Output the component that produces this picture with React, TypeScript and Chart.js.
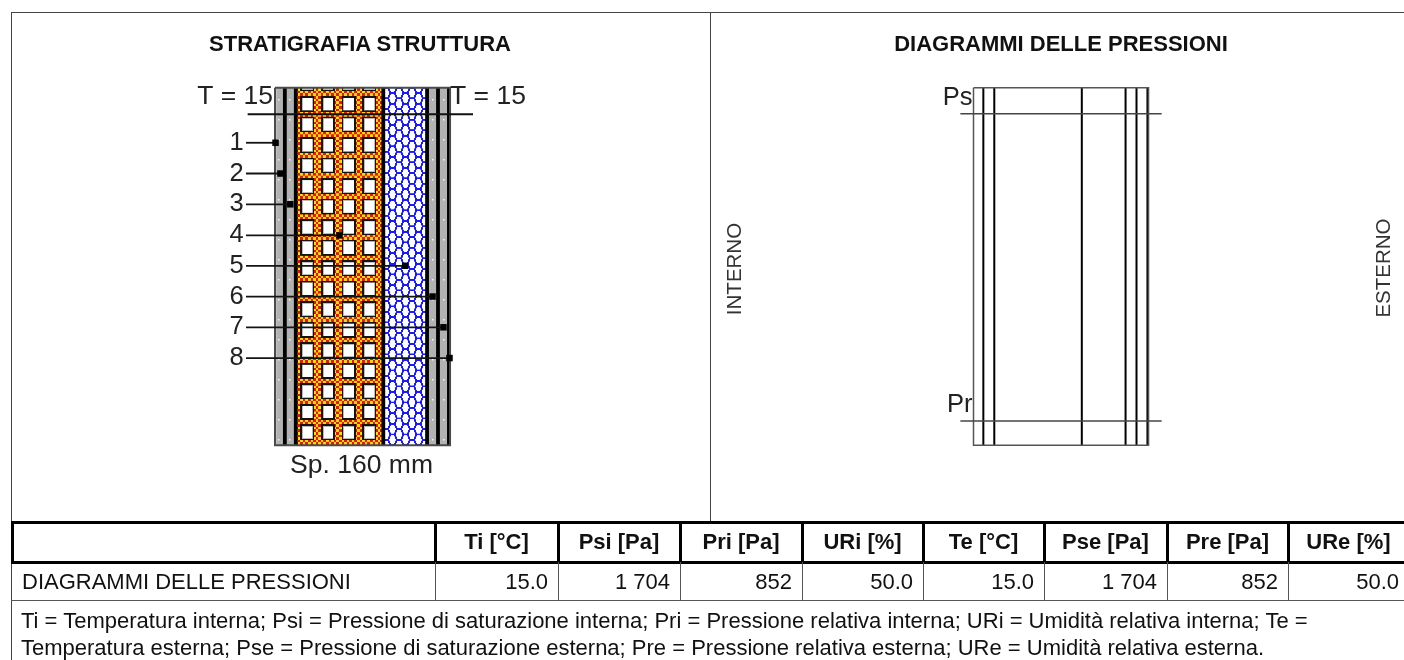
import React, { useEffect, useRef } from "react";
import { Chart, registerables } from "chart.js";

Chart.register(...registerables);

// ---------- data ----------
const layerNames = ["1", "2", "3", "4", "5", "6", "7", "8"];
const layerThicknessMm = [1, 8, 10, 80, 40, 10, 10, 1];
const layerKinds = ["skin", "plaster", "plaster", "brick", "net", "plaster", "plaster", "skin"];
const leaderLevels = [15.4, 24, 32.6, 41.3, 49.8, 58.4, 67, 75.6];
const temperatureProfile = [15, 15, 15, 15, 15, 15, 15, 15, 15];
const saturationPressure = [1704, 1704, 1704, 1704, 1704, 1704, 1704, 1704, 1704];
const relativePressure = [852, 852, 852, 852, 852, 852, 852, 852, 852];
const tableHeaders = ["Ti [°C]", "Psi [Pa]", "Pri [Pa]", "URi [%]", "Te [°C]", "Pse [Pa]", "Pre [Pa]", "URe [%]"];
const tableValues = ["15.0", "1 704", "852", "50.0", "15.0", "1 704", "852", "50.0"];
const rowLabel = "DIAGRAMMI DELLE PRESSIONI";
const noteLines = [
  "Ti = Temperatura interna; Psi = Pressione di saturazione interna; Pri = Pressione relativa interna; URi = Umidità relativa interna; Te =",
  "Temperatura esterna; Pse = Pressione di saturazione esterna; Pre = Pressione relativa esterna; URe = Umidità relativa esterna.",
];

// ---------- layout ----------
const W = 1404;
const H = 660;
const FONT = '"Liberation Sans", Arial, sans-serif';
const columnEdges = [435, 558, 680, 802, 923, 1044, 1167, 1288, 1409];

// value v0 lands on pixel p0 with k pixels per unit (left-to-right / top-to-bottom)
const range = (size: number, p0: number, v0: number, k: number) => ({
  min: v0 - p0 / k,
  max: v0 + (size - p0) / k,
});
// value v0 lands on pixel p0, values grow upwards
const upRange = (size: number, p0: number, v0: number, k: number) => ({
  min: v0 - (size - p0) / k,
  max: v0 + p0 / k,
});

const boundaries = layerThicknessMm.reduce<number[]>((acc, t) => [...acc, acc[acc.length - 1] + t], [0]);
const TOTAL = boundaries[boundaries.length - 1];

function brickPattern(ctx: CanvasRenderingContext2D) {
  const s = 12;
  const size = 248;
  const c = document.createElement("canvas");
  c.width = size;
  c.height = size;
  const g = c.getContext("2d")!;
  const cell = size / 8;
  for (let i = 0; i < 8; i++) {
    for (let j = 0; j < 8; j++) {
      g.fillStyle = (i + j) % 2 ? "#e81400" : "#ffe000";
      g.fillRect(i * cell, j * cell, cell + 1, cell + 1);
    }
  }
  g.fillStyle = "#141414";
  g.fillRect(0, 0, 14 * s, 16 * s);
  g.fillStyle = "#b9b9b9";
  g.fillRect(1.8 * s, 1.8 * s, 10.6 * s, 12.8 * s);
  g.fillStyle = "#ffffff";
  g.fillRect(2.8 * s, 2.4 * s, 9.2 * s, 11.6 * s);
  const p = ctx.createPattern(c, "repeat")!;
  p.setTransform(new DOMMatrix().translate(300.2, 96).scale(20.67 / size, 20.52 / size));
  return p;
}

function netPattern(ctx: CanvasRenderingContext2D) {
  const s = 8;
  const tw = 13;
  const th = 10.67;
  const c = document.createElement("canvas");
  c.width = Math.round(tw * s);
  c.height = Math.round(th * s);
  const g = c.getContext("2d")!;
  g.scale(c.width / tw, c.height / th);
  g.fillStyle = "#ffffff";
  g.fillRect(0, 0, tw, th);
  g.strokeStyle = "#1a1aff";
  g.lineWidth = 1.8;
  g.beginPath();
  g.moveTo(-3, th / 2);
  g.lineTo(2.17, th / 2);
  g.lineTo(4.33, 0);
  g.lineTo(8.67, 0);
  g.lineTo(10.83, th / 2);
  g.lineTo(16, th / 2);
  g.moveTo(2.17, th / 2);
  g.lineTo(4.33, th);
  g.lineTo(8.67, th);
  g.lineTo(10.83, th / 2);
  g.stroke();
  const p = ctx.createPattern(c, "repeat")!;
  p.setTransform(new DOMMatrix().translate(386, 93).scale(tw / c.width, th / c.height));
  return p;
}

function plasterPattern(ctx: CanvasRenderingContext2D) {
  const c = document.createElement("canvas");
  c.width = 11;
  c.height = 20;
  const g = c.getContext("2d")!;
  g.fillStyle = "#b2b2b2";
  g.fillRect(0, 0, 11, 20);
  g.fillStyle = "#f4f4f4";
  g.fillRect(5, 9, 1.5, 1.5);
  const p = ctx.createPattern(c, "repeat")!;
  p.setTransform(new DOMMatrix().translate(273, 90));
  return p;
}

const labelPlugin = {
  id: "diagramLabels",
  afterDatasetsDraw(chart: any) {
    const { ctx, scales } = chart;
    const { xWall, xPress, yWall, yTemp, yPress } = scales;
    ctx.save();
    ctx.fillStyle = "#222222";
    ctx.textBaseline = "middle";
    ctx.font = `25.5px ${FONT}`;
    ctx.textAlign = "center";
    layerNames.forEach((n, i) => {
      ctx.fillText(n, xWall.getPixelForValue(-35), yWall.getPixelForValue(leaderLevels[i]));
    });
    ctx.font = `26.5px ${FONT}`;
    const ty = yTemp.getPixelForValue(temperatureProfile[0]) - 18;
    ctx.textAlign = "right";
    ctx.fillText(`T = ${temperatureProfile[0]}`, xWall.getPixelForValue(0) - 2, ty);
    ctx.textAlign = "left";
    ctx.fillText(`T = ${temperatureProfile[8]}`, xWall.getPixelForValue(TOTAL) + 0, ty);
    ctx.textAlign = "center";
    ctx.fillText(`Sp. ${TOTAL} mm`, xWall.getPixelForValue(TOTAL / 2) - 1, yWall.getPixelForValue(100) + 20);
    ctx.font = `25.5px ${FONT}`;
    ctx.textAlign = "right";
    ctx.fillText("Ps", xPress.getPixelForValue(0) - 1, yPress.getPixelForValue(saturationPressure[0]) - 16);
    ctx.fillText("Pr", xPress.getPixelForValue(0) - 1, yPress.getPixelForValue(relativePressure[0]) - 16);
    ctx.textAlign = "center";
    ctx.fillStyle = "#333333";
    ctx.font = `20.5px ${FONT}`;
    [
      ["INTERNO", 735, 269],
      ["ESTERNO", 1384, 268],
    ].forEach(([t, x, y]) => {
      ctx.save();
      ctx.translate(x as number, y as number);
      ctx.rotate(-Math.PI / 2);
      ctx.fillText(t as string, 0, 0);
      ctx.restore();
    });
    ctx.restore();
  },
};

const line = (xAxisID: string, yAxisID: string, data: any[], color: string, width: number, extra: any = {}) => ({
  type: "scatter" as const,
  showLine: true,
  xAxisID,
  yAxisID,
  data,
  borderColor: color,
  backgroundColor: color,
  borderWidth: width,
  pointRadius: 0,
  tension: 0,
  clip: false,
  ...extra,
});

function Txt({ x, y, children, align = "left", bold = false, w }: any) {
  const style: React.CSSProperties = {
    position: "absolute",
    top: y,
    transform: "translateY(-50%)",
    whiteSpace: "nowrap",
    fontFamily: FONT,
    fontSize: 22,
    lineHeight: "24px",
    fontWeight: bold ? 700 : 400,
    color: "#111",
    textAlign: align,
  };
  if (align === "left") style.left = x;
  if (align === "center") {
    style.left = x - w / 2;
    style.width = w;
  }
  if (align === "right") {
    style.left = x - w;
    style.width = w;
  }
  return <div style={style}>{children}</div>;
}

function Rule({ x, y, w, h, color = "#222" }: any) {
  return <div style={{ position: "absolute", left: x, top: y, width: w, height: h, background: color }} />;
}

export default function App() {
  const ref = useRef<HTMLCanvasElement>(null);

  useEffect(() => {
    const canvas = ref.current!;
    const ctx = canvas.getContext("2d")!;
    const fills: Record<string, any> = {
      skin: "#1a1a1a",
      plaster: plasterPattern(ctx),
      brick: brickPattern(ctx),
      net: netPattern(ctx),
    };

    const datasets: any[] = [];

    // front-most first: leaders, temperature and pressure lines
    layerNames.forEach((_, i) => {
      const mid = (boundaries[i] + boundaries[i + 1]) / 2;
      datasets.push(
        line("xWall", "yWall", [{ x: -26.5, y: leaderLevels[i] }, { x: mid, y: leaderLevels[i] }], "#141414", 1.8, {
          pointRadius: [0, 4.6],
          pointStyle: "rect",
          pointBorderWidth: 0,
          pointBackgroundColor: "#000000",
        })
      );
    });
    const tempX = [-25, ...boundaries.slice(1, -1), TOTAL + 21];
    datasets.push(line("xWall", "yTemp", temperatureProfile.map((t, i) => ({ x: tempX[i], y: t })), "#111111", 2));
    const pressX = [-12, ...boundaries.slice(1, -1), TOTAL + 12];
    datasets.push(line("xPress", "yPress", saturationPressure.map((p, i) => ({ x: pressX[i], y: p })), "#444444", 1.5));
    datasets.push(line("xPress", "yPress", relativePressure.map((p, i) => ({ x: pressX[i], y: p })), "#444444", 1.5));

    // wall outline and layer boundaries
    const outline = [{ x: 0, y: 0 }, { x: TOTAL, y: 0 }, { x: TOTAL, y: 100 }, { x: 0, y: 100 }, { x: 0, y: 0 }];
    datasets.push(line("xWall", "yWall", outline, "#4a4a4a", 2));
    datasets.push(line("xPress", "yWall", outline, "#555555", 1.5));
    boundaries.slice(2, -1).forEach((b) => {
      datasets.push(line("xWall", "yWall", [{ x: b, y: 0 }, { x: b, y: 100 }], "#000000", 3.8));
      datasets.push(line("xPress", "yWall", [{ x: b, y: 0 }, { x: b, y: 100 }], "#000000", 2));
    });

    // layer fills, furthest back
    layerKinds.forEach((kind, i) => {
      datasets.push(
        line("xWall", "yWall", [{ x: boundaries[i], y: 0 }, { x: boundaries[i + 1], y: 0 }], "transparent", 0, {
          backgroundColor: fills[kind],
          fill: { value: 100 },
        })
      );
    });

    const hidden = { display: false, type: "linear" as const, bounds: "data" as const };
    const chart = new Chart(canvas, {
      type: "scatter",
      data: { datasets },
      options: {
        animation: false,
        responsive: false,
        layout: { padding: 0, autoPadding: false },
        events: [],
        plugins: { legend: { display: false }, tooltip: { enabled: false } },
        scales: {
          xWall: { ...hidden, axis: "x", ...range(W, 275, 0, 1.094) },
          xPress: { ...hidden, axis: "x", ...range(W, 973.5, 0, 1.094) },
          yWall: { ...hidden, axis: "y", reverse: true, ...range(H, 87.7, 0, 3.576) },
          yTemp: { ...hidden, axis: "y", ...upRange(H, 114.3, 15, 20) },
          yPress: { ...hidden, axis: "y", ...upRange(H, 113.7, 1704, 0.3607) },
        } as any,
      },
      plugins: [labelPlugin],
    });
    return () => chart.destroy();
  }, []);

  return (
    <div style={{ position: "absolute", left: 0, top: 0, width: W, height: H, overflow: "hidden", background: "#fff" }}>
      <canvas ref={ref} width={W} height={H} style={{ position: "absolute", left: 0, top: 0, width: W, height: H }} />
      <Rule x={11} y={12} w={W - 11} h={1} color="#444" />
      <Rule x={11} y={12} w={1} h={H - 12} color="#444" />
      <Rule x={710} y={12} w={1} h={510} color="#444" />
      <Rule x={11} y={521} w={W - 11} h={3} color="#000" />
      <Rule x={11} y={561} w={W - 11} h={3} color="#000" />
      <Rule x={11} y={522} w={3} h={40} color="#000" />
      <Rule x={11} y={600} w={W - 11} h={1} color="#555" />
      {columnEdges.slice(0, -1).map((x) => (
        <React.Fragment key={x}>
          <Rule x={x - 1} y={522} w={3} h={40} color="#000" />
          <Rule x={x} y={562} w={1} h={39} color="#555" />
        </React.Fragment>
      ))}
      <Txt x={360} y={44} align="center" w={500} bold>STRATIGRAFIA STRUTTURA</Txt>
      <Txt x={1061} y={44} align="center" w={500} bold>DIAGRAMMI DELLE PRESSIONI</Txt>
      {tableHeaders.map((t, i) => (
        <Txt key={t} x={(columnEdges[i] + columnEdges[i + 1]) / 2} y={542} align="center" w={120} bold>{t}</Txt>
      ))}
      <Txt x={22} y={582}>{rowLabel}</Txt>
      {tableValues.map((t, i) => (
        <Txt key={i} x={columnEdges[i + 1] - 10} y={582} align="right" w={110}>{t}</Txt>
      ))}
      <Txt x={21} y={621}>{noteLines[0]}</Txt>
      <Txt x={21} y={648}>{noteLines[1]}</Txt>
    </div>
  );
}
